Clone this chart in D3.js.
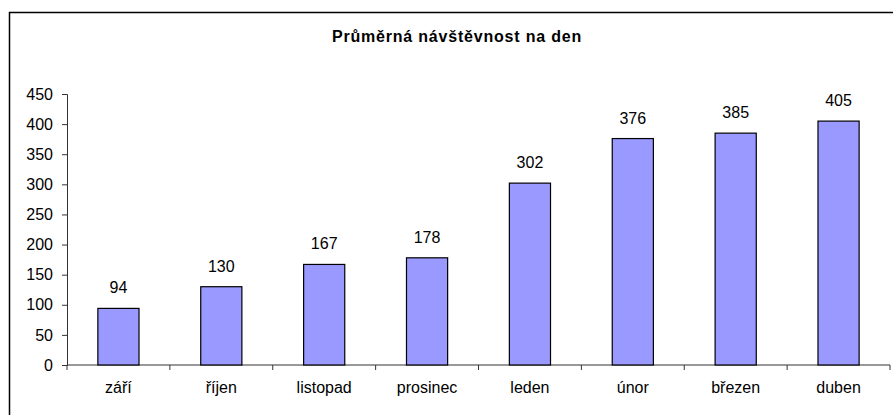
<!DOCTYPE html>
<html>
<head>
<meta charset="utf-8">
<script src="https://cdn.jsdelivr.net/npm/d3@7"></script>
<style>
  body { margin: 0; background: white; }
  text { font-family: "Liberation Sans", Arial, sans-serif; fill: #000; }
</style>
</head>
<body>
<div id="chart"></div>
<script>
var mesice = ['září', 'říjen', 'listopad', 'prosinec', 'leden', 'únor', 'březen', 'duben'];
var navstevnost = [94, 130, 167, 178, 302, 376, 385, 405];
var yTicks = [0, 50, 100, 150, 200, 250, 300, 350, 400, 450];

var width = 893;
var height = 415;

var svg = d3.select('#chart')
    .append('svg')
    .attr('width', width)
    .attr('height', height);

// ramecek kolem celeho grafu (pravy a dolni okraj je oriznuty)
svg.append('rect')
    .attr('x', 9.5)
    .attr('y', 12.5)
    .attr('width', 900)
    .attr('height', 420)
    .attr('fill', 'none')
    .attr('stroke', '#000')
    .attr('stroke-width', 1.5);

svg.append('text')
    .attr('x', 457)
    .attr('y', 42)
    .attr('text-anchor', 'middle')
    .attr('font-size', 16)
    .attr('font-weight', 'bold')
    .attr('letter-spacing', 0.8)
    .text('Průměrná návštěvnost na den');

var x = d3.scaleBand()
    .domain(mesice)
    .range([67, 890])
    .paddingInner(0.6)
    .paddingOuter(0.3);

var y = d3.scaleLinear()
    .domain([0, 450])
    .range([365, 94]);

var yAxis = svg.append('g')
    .attr('transform', 'translate(67,0)')
    .call(d3.axisLeft(y).tickValues(yTicks).tickSize(5).tickPadding(9));

yAxis.selectAll('text').attr('font-size', 16).style('font-family', '"Liberation Sans", Arial, sans-serif');
yAxis.selectAll('path, line').attr('stroke', '#333');

var xAxis = svg.append('g')
    .attr('transform', 'translate(0,365)');
xAxis.append('line')
    .attr('x1', 67).attr('x2', 890)
    .attr('stroke', '#333');
xAxis.selectAll('.tick')
    .data(d3.range(mesice.length + 1))
    .enter()
    .append('line')
    .attr('x1', (d) => 67 + d * x.step())
    .attr('x2', (d) => 67 + d * x.step())
    .attr('y1', 0)
    .attr('y2', 5)
    .attr('stroke', '#333');
xAxis.selectAll('text')
    .data(mesice)
    .enter()
    .append('text')
    .attr('x', (d) => x(d) + x.bandwidth() / 2)
    .attr('y', 28)
    .attr('text-anchor', 'middle')
    .attr('font-size', 16)
    .text((d) => d);

var data = mesice.map((m, i) => ({mesic: m, hodnota: navstevnost[i]}));

svg.append('g')
    .selectAll('rect')
    .data(data)
    .enter()
    .append('rect')
    .attr('x', (d) => x(d.mesic))
    .attr('y', (d) => y(d.hodnota))
    .attr('width', x.bandwidth())
    .attr('height', (d) => y(0) - y(d.hodnota))
    .attr('fill', '#9999FF')
    .attr('stroke', '#000')
    .attr('stroke-width', 1.2);

svg.append('g')
    .selectAll('text')
    .data(data)
    .enter()
    .append('text')
    .attr('x', (d) => x(d.mesic) + x.bandwidth() / 2)
    .attr('y', (d) => y(d.hodnota) - 15)
    .attr('text-anchor', 'middle')
    .attr('font-size', 16)
    .text((d) => d.hodnota);
</script>
</body>
</html>
